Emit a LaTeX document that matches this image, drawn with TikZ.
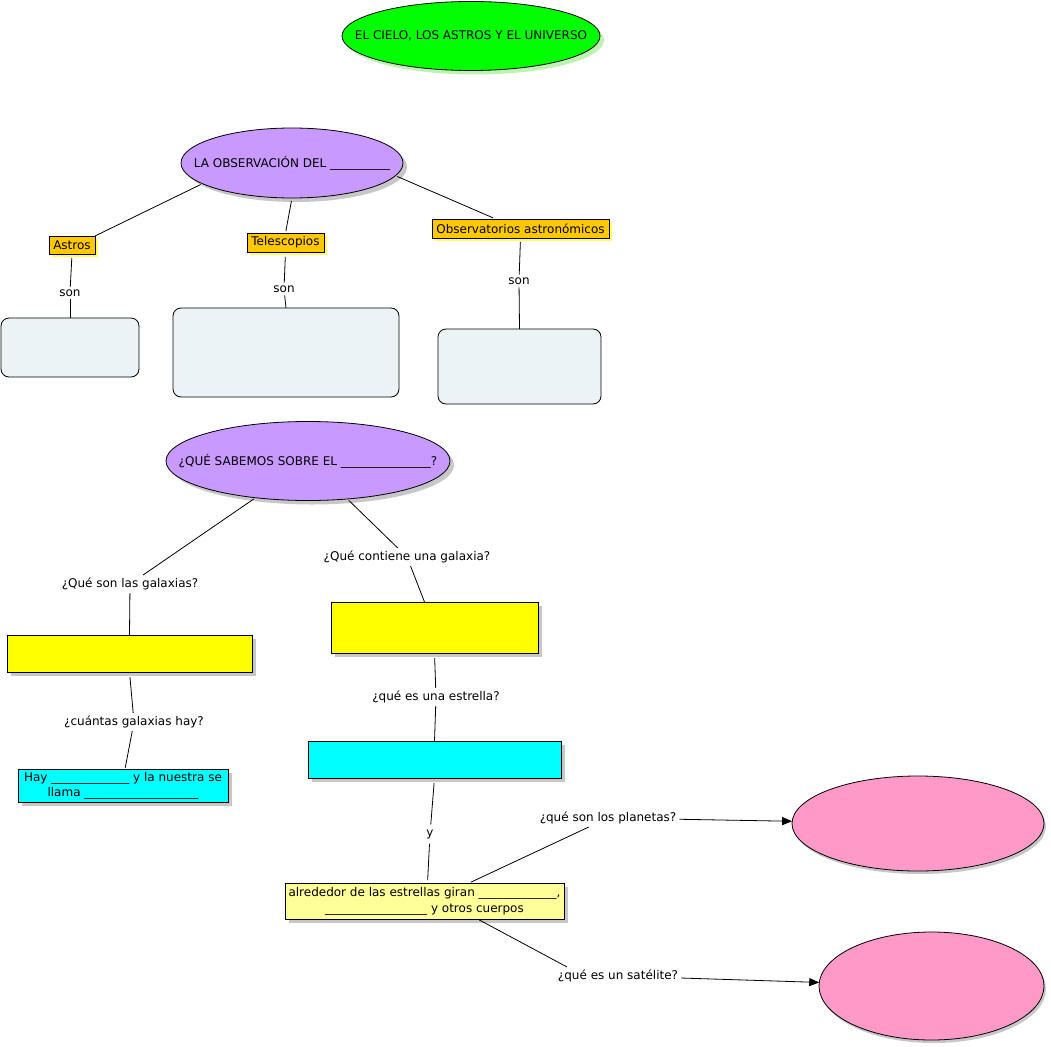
\documentclass[tikz,border=0pt]{standalone}
\usepackage{fontspec}
\setmainfont{DejaVu Sans}
\usetikzlibrary{shapes.geometric,shadows,arrows.meta,calc}
\definecolor{cgreen}{HTML}{00FF00}
\definecolor{cgreensh}{HTML}{BDF2B0}
\definecolor{cpurple}{HTML}{C899FF}
\definecolor{corange}{HTML}{FFC800}
\definecolor{corangesh}{HTML}{FFFF66}
\definecolor{cpale}{HTML}{EBF3F5}
\definecolor{cyellow}{HTML}{FFFF00}
\definecolor{ccyan}{HTML}{00FFFF}
\definecolor{clight}{HTML}{FFFF99}
\definecolor{cpink}{HTML}{FF99C8}
\begin{document}
\begin{tikzpicture}[x=1pt,y=-1pt,
  every node/.style={font=\fontsize{12}{15}\selectfont, inner sep=0pt, outer sep=0pt},
  every label/.style={font=\fontsize{12}{15}\selectfont, inner sep=0pt},
  ell/.style={ellipse, draw, line width=0.8pt},
  box/.style={rectangle, draw, line width=0.8pt},
  rbox/.style={rectangle, rounded corners=8pt, draw, line width=0.8pt, fill=cpale},
  graysh/.style={drop shadow={shadow xshift=4pt,shadow yshift=-4pt,fill=black!22,opacity=1}},
  greensh/.style={drop shadow={shadow xshift=4pt,shadow yshift=-4pt,fill=cgreensh,opacity=1}},
  orangesh/.style={drop shadow={shadow xshift=3pt,shadow yshift=-3pt,fill=corangesh,opacity=1}},
  lbl/.style={inner sep=3pt},
  link/.style={line width=0.8pt},
  arr/.style={link, -{Triangle[length=10pt,width=8pt]}}
]
\useasboundingbox (0,0) rectangle (1051,1046);

% ellipses
\node[ell, fill=cgreen, greensh, minimum width=258pt, minimum height=69pt, label={center:EL CIELO, LOS ASTROS Y EL UNIVERSO}] (top) at (471,36) {};
\node[ell, fill=cpurple, graysh, minimum width=222pt, minimum height=70pt, label={center:LA OBSERVACIÓN DEL \_\_\_\_\_\_\_\_\_\_}] (e2) at (292,163) {};
\node[ell, fill=cpurple, graysh, minimum width=284pt, minimum height=79pt, label={center:¿QUÉ SABEMOS SOBRE EL \_\_\_\_\_\_\_\_\_\_\_\_\_\_\_?}] (e3) at (308,461) {};
\node[ell, fill=cpink, drop shadow={shadow xshift=2pt,shadow yshift=-3pt,fill=black!22,opacity=1}, minimum width=252pt, minimum height=95pt] (p1) at (918,823.5) {};
\node[ell, fill=cpink, drop shadow={shadow xshift=2pt,shadow yshift=-3pt,fill=black!22,opacity=1}, minimum width=225pt, minimum height=108pt] (p2) at (931.5,986) {};

% orange boxes
\node[box, fill=corange, orangesh, minimum width=46pt, minimum height=18pt] (astros) at (72,245) {Astros};
\node[box, fill=corange, orangesh, minimum width=77pt, minimum height=19pt] (tel) at (285.5,242.5) {Telescopios};
\node[box, fill=corange, orangesh, minimum width=177pt, minimum height=19pt] (obs) at (520.5,228.5) {Observatorios astronómicos};

% rounded boxes
\node[rbox, minimum width=138pt, minimum height=59pt] (b1) at (70,347.5) {};
\node[rbox, minimum width=226pt, minimum height=89pt] (b2) at (286,352.5) {};
\node[rbox, minimum width=163pt, minimum height=75pt] (b3) at (519.5,366.5) {};

% coloured boxes
\node[box, fill=cyellow, graysh, minimum width=245pt, minimum height=37pt] (y1) at (129.5,653.5) {};
\node[box, fill=cyellow, graysh, minimum width=207pt, minimum height=51pt] (y2) at (434.5,627.5) {};
\node[box, fill=ccyan, graysh, minimum width=210pt, minimum height=33pt, align=center] (c1) at (123,785.5) {Hay \_\_\_\_\_\_\_\_\_\_\_\_\_ y la nuestra se\\llama \_\_\_\_\_\_\_\_\_\_\_\_\_\_\_\_\_\_\_};
\node[box, fill=ccyan, graysh, minimum width=253pt, minimum height=37pt] (c2) at (434.5,759.5) {};
\node[box, fill=clight, graysh, minimum width=279pt, minimum height=36pt, align=center, font=\fontsize{12}{16}\selectfont] (ly) at (424.5,901) {alrededor de las estrellas giran \_\_\_\_\_\_\_\_\_\_\_\_\_,\\\_\_\_\_\_\_\_\_\_\_\_\_\_\_\_\_\_ y otros cuerpos};

% labels
\node[lbl] (son1) at (70,293) {son};
\node[lbl] (son2) at (284,289) {son};
\node[lbl] (son3) at (519,281) {son};
\node[lbl] (q1) at (130,584) {¿Qué son las galaxias?};
\node[lbl] (q2) at (407,557) {¿Qué contiene una galaxia?};
\node[lbl] (q3) at (134,722) {¿cuántas galaxias hay?};
\node[lbl] (q4) at (436,697) {¿qué es una estrella?};
\node[lbl, inner sep=5pt] (q5) at (430,834) {y};
\node[lbl] (q6) at (608,818) {¿qué son los planetas?};
\node[lbl] (q7) at (618,976) {¿qué es un satélite?};

% connectors
\draw[link, shorten <=2pt] (e2.193) -- (astros.north east);
\draw[link, shorten <=3pt, shorten >=2pt] (e2.south) -- (tel.north);
\draw[link, shorten <=2pt, shorten >=3pt] (e2.-7) -- ($(obs.north west)!0.36!(obs.north east)$);

\draw[link, shorten <=4pt] (astros.south) -- (son1);
\draw[link] (son1) -- (b1.north);
\draw[link, shorten <=5pt] (tel.south) -- (son2);
\draw[link] (son2) -- (b2.north);
\draw[link, shorten <=4pt] (obs.south) -- (son3);
\draw[link] (son3) -- (b3.north);

\draw[link, shorten <=2pt] (e3.215) -- (q1);
\draw[link] (q1) -- (y1.north);
\draw[link, shorten <=2pt] (e3.-44) -- (q2);
\draw[link] (q2) -- ($(y2.north)+(-10,0)$);

\draw[link, shorten <=5pt] (y1.south) -- (q3);
\draw[link, shorten >=1pt] (q3) -- ($(c1.north)+(2,0)$);
\draw[link, shorten <=5pt] (y2.south) -- (q4);
\draw[link] (q4) -- (c2.north);
\draw[link, shorten <=5pt] (c2.south) -- (q5);
\draw[link, shorten >=3pt] (q5) -- ($(ly.north)+(3,0)$);

\draw[link, shorten <=2pt] ($(ly.north west)!0.66!(ly.north east)$) -- (q6);
\draw[arr] (q6) -- (p1);
\draw[link, shorten <=2pt] ($(ly.south west)!0.69!(ly.south east)$) -- ($(q7.north west)+(12,0)$);
\draw[arr] (q7) -- (p2);
\end{tikzpicture}
\end{document}
